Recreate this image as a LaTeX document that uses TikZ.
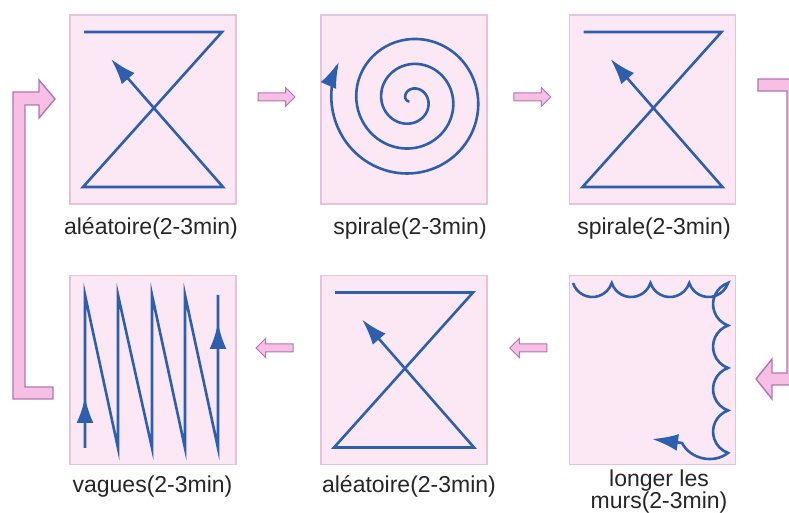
\documentclass[tikz,border=0pt]{standalone}
\usepackage{fontspec}
\setmainfont{Liberation Sans}
\usetikzlibrary{arrows.meta,shapes.arrows,calc}

\definecolor{boxfill}{HTML}{FCE8F4}
\definecolor{boxline}{HTML}{E6C3DD}
\definecolor{pathblue}{HTML}{2E5FAE}
\definecolor{arrowfill}{HTML}{F8BFE5}
\definecolor{arrowline}{HTML}{B075B2}

\begin{document}
\begin{tikzpicture}[x=1pt,y=1pt,>={Latex[length=26pt,width=17pt]},
  box/.style={draw=boxline,line width=1.2pt,fill=boxfill,minimum width=166pt,minimum height=189pt,inner sep=0pt},
  lbl/.style={font=\fontsize{23}{22}\selectfont,text=black!85,inner sep=0pt},
  walk/.style={draw=pathblue,line width=2.6pt},
  smallflow/.style={single arrow,draw=arrowline,fill=arrowfill,line width=1pt,minimum height=37pt,inner xsep=0pt,inner ysep=3.5pt,single arrow head extend=5.5pt},
  bigflow/.style={draw=arrowline,fill=arrowfill,line width=1.4pt}]
\useasboundingbox (0,0) rectangle (789,513);
\node[box] (alea1) at (153,403.5) {};
\node[box] (spir1) at (404,403.5) {};
\node[box] (spir2) at (652.5,403.5) {};
\node[box] (vag) at (153,143) {};
\node[box] (alea2) at (404,143) {};
\node[box] (murs) at (652.5,143) {};
\node[lbl,anchor=base] (lalea1) at (151,278) {aléatoire(2-3min)};
\node[lbl,anchor=base] (lspir1) at (410,278) {spirale(2-3min)};
\node[lbl,anchor=base] (lspir2) at (654,278) {spirale(2-3min)};
\node[lbl,anchor=base] (lvag) at (152.5,20) {vagues(2-3min)};
\node[lbl,anchor=base] (lalea2) at (409,20) {aléatoire(2-3min)};
\node[lbl,anchor=north,align=center] (lmurs) at (659,43) {longer les\\murs(2-3min)};
% hourglass walks
\foreach \b in {alea1,spir2,alea2}
  \draw[walk,->] ($(\b.center)+(-69,77.5)$) -- ($(\b.center)+(69,77.5)$) -- ($(\b.center)+(-70,-77.5)$) -- ($(\b.center)+(70,-77.5)$) -- ($(\b.center)+(-42,50.5)$);
% spiral
\begin{scope}[shift={(spir1.center)}]
\draw[walk,->] plot[domain=1298:152,samples=260,smooth,variable=\t] ({7+(2+0.069444*(1298-\t))*cos(\t)},{9.5+(2+0.069444*(1298-\t))*sin(\t)});
\end{scope}
% waves
\begin{scope}[shift={(vag.center)}]
\draw[walk] (-68,-78) -- (-68,75) -- (-35,-78) -- (-35,75) -- (-1,-78) -- (-1,75) -- (32,-78) -- (32,75) -- (65,-78) -- (65,75);
\draw[walk,->] (-68,-78) -- (-68,-27);
\draw[walk,->] (65,-78) -- (65,47);
\end{scope}
% along the walls
\begin{scope}[shift={(murs.center)}]
\draw[walk,->] (-79.5,87) \foreach \i in {1,...,4} {arc[start angle=198.2,end angle=341.8,radius=20.4]}
  \foreach \i in {1,...,4} {arc[start angle=109.6,end angle=250.4,radius=22.55]}
  to[bend left=50] (29.5,-73) -- (-0.5,-69);
\end{scope}
% order of the walks
\node[smallflow] (f1) at ($(alea1.east)!0.5!(spir1.west)+(-4,12.5)$) {};
\node[smallflow] (f2) at ($(spir1.east)!0.5!(spir2.west)+(2,12.5)$) {};
\node[smallflow,shape border rotate=180] (f3) at ($(vag.east)!0.5!(alea2.west)+(-2,22)$) {};
\node[smallflow,shape border rotate=180] (f4) at ($(alea2.east)!0.5!(murs.west)+(2,22)$) {};
\draw[bigflow] (758,434) -- (800,434) -- (800,128) -- (772,128) -- (772,114) -- (756,134) -- (772,154) -- (772,140) -- (787,140) -- (787,422) -- (758,422) -- cycle;
\draw[bigflow] (53,126) -- (53,114) -- (13,114) -- (13,421) -- (39,421) -- (39,433) -- (55,414) -- (39,395) -- (39,408) -- (25,408) -- (25,126) -- cycle;
\end{tikzpicture}
\end{document}
